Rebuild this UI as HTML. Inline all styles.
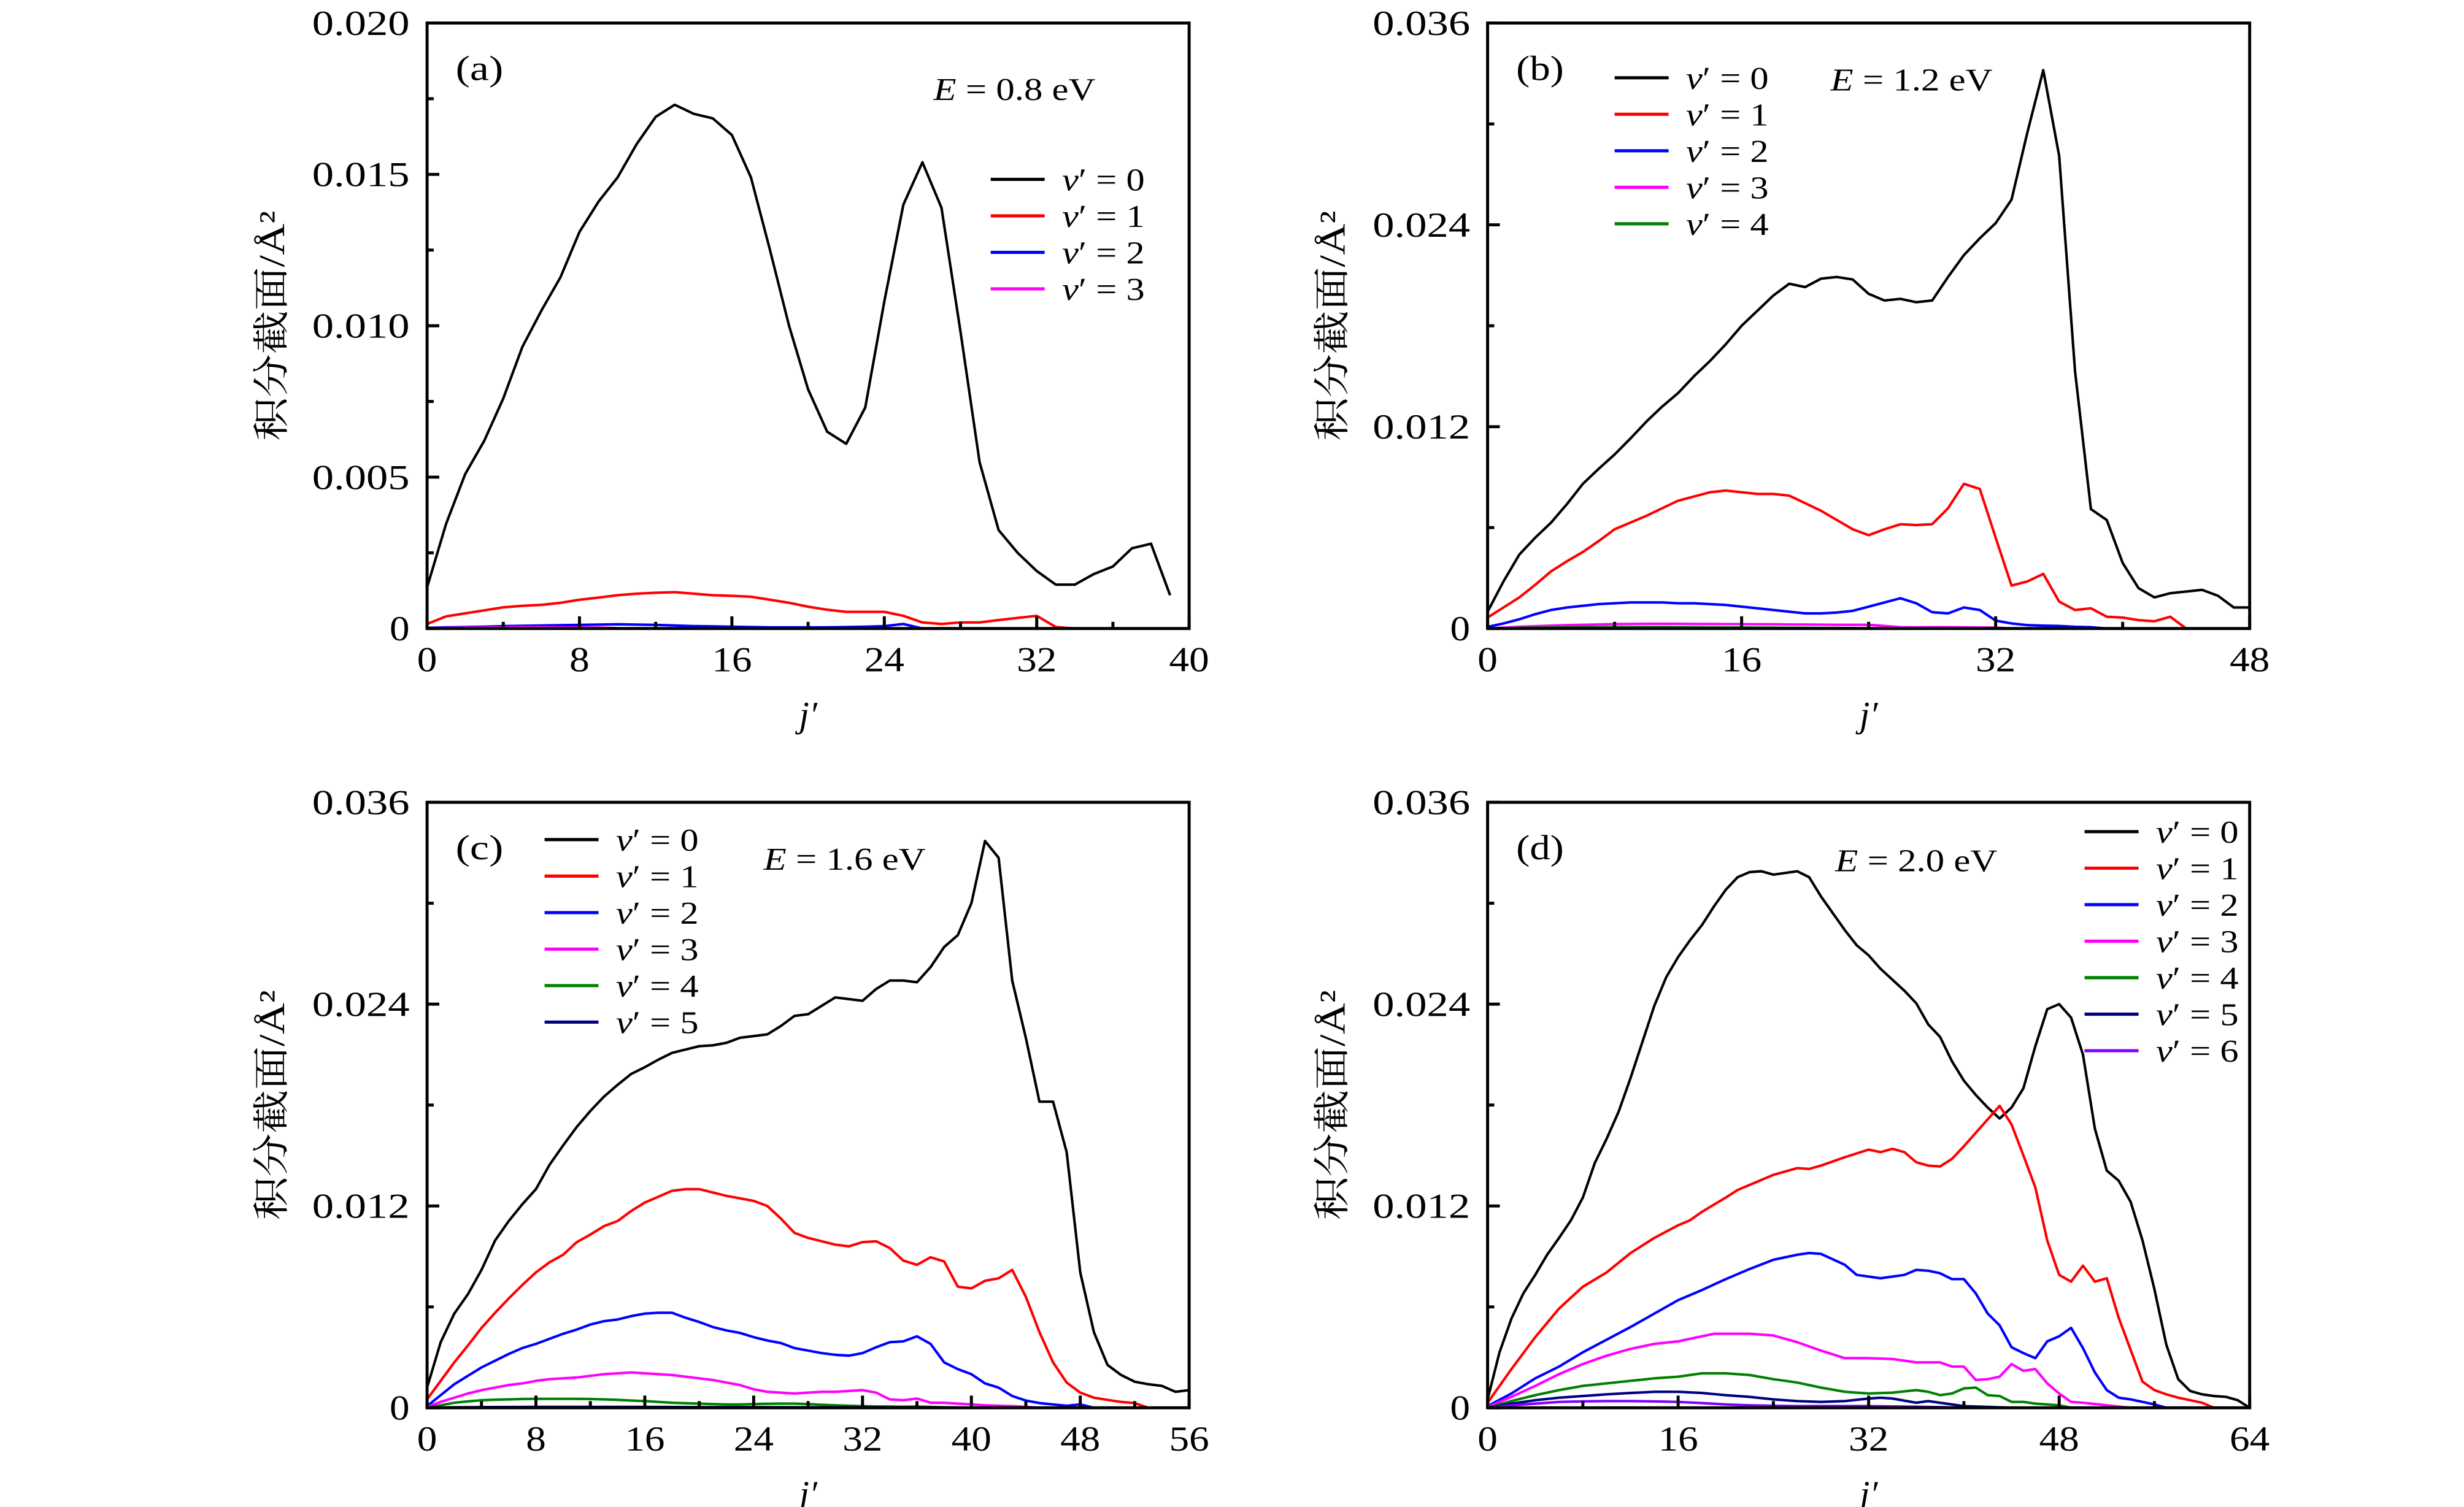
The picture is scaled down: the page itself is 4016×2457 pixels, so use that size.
<!DOCTYPE html>
<html><head><meta charset="utf-8">
<style>
html,body{margin:0;padding:0;background:#fff;}
svg{display:block;}
text{font-family:"Liberation Serif","Noto Serif CJK SC",serif;fill:#000;}
</style></head>
<body>
<svg id="fig" xmlns="http://www.w3.org/2000/svg" width="4016" height="2457" viewBox="0 0 1552 949.5"></svg>
<script>
// ---- Panel (a) data, E = 0.8 eV (units 1e-3 Å^2) ----
const aJ0 = [0,1,2,3,4,5,6,7,8,9,10,11,12,13,14,15,16,17,18,19,20,21,22,23,24,25,26,27,28,29,30,31,32,33,34,35,36,37,38,39];
const aV0 = [1.36,3.46,5.1,6.2,7.6,9.3,10.5,11.6,13.1,14.1,14.9,16.0,16.9,17.3,17.0,16.85,16.3,14.9,12.5,10.0,7.9,6.5,6.1,7.3,10.8,14.0,15.4,13.9,9.8,5.5,3.25,2.5,1.9,1.45,1.45,1.8,2.05,2.65,2.8,1.1];
const aJ1 = [0,1,2,3,4,5,6,7,8,9,10,11,12,13,14,15,16,17,18,19,20,21,22,23,24,25,26,27,28,29,30,31,32,33,34];
const aV1 = [0.15,0.4,0.5,0.6,0.7,0.75,0.78,0.85,0.95,1.02,1.1,1.15,1.18,1.2,1.15,1.1,1.08,1.05,0.95,0.85,0.72,0.62,0.55,0.55,0.55,0.42,0.2,0.15,0.2,0.2,0.28,0.35,0.42,0.05,0];
const aJ2 = [0,1,2,3,4,5,6,7,8,9,10,11,12,13,14,15,16,17,18,19,20,21,22,23,24,25,26];
const aV2 = [0.02,0.04,0.05,0.06,0.08,0.09,0.10,0.11,0.12,0.13,0.14,0.13,0.12,0.10,0.08,0.07,0.06,0.05,0.04,0.04,0.04,0.04,0.05,0.06,0.08,0.15,0];
const aJ3 = [0,1,2,3,4,5,6,7,8,9,10];
const aV3 = [0.01,0.02,0.03,0.03,0.04,0.05,0.05,0.04,0.03,0.03,0.01];

// ---- Panel (b) data, E = 1.2 eV ----
const bJ0 = [0,1,2,3,4,5,6,7,8,9,10,11,12,13,14,15,16,17,18,19,20,21,22,23,24,25,26,27,28,29,30,31,32,33,34,35,36,37,38,39,40,41,42,43,44,45,46,47,48];
const bV0 = [1.0,2.8,4.4,5.4,6.3,7.4,8.6,9.5,10.35,11.3,12.3,13.2,14.0,15.0,15.9,16.9,18.0,18.9,19.8,20.5,20.3,20.8,20.9,20.75,19.9,19.5,19.6,19.4,19.5,20.9,22.2,23.2,24.1,25.5,29.5,33.2,28.1,15.3,7.1,6.45,3.9,2.4,1.85,2.1,2.2,2.3,1.95,1.25,1.25];
const bJ1 = [0,1,2,3,4,5,6,7,8,9,10,11,12,13,14,15,16,17,18,19,20,21,22,23,24,25,26,27,28,29,30,31,32,33,34,35,36,37,38,39,40,41,42,43,44];
const bV1 = [0.65,1.25,1.85,2.6,3.4,4.0,4.55,5.2,5.9,6.3,6.7,7.15,7.6,7.85,8.1,8.2,8.1,8.0,8.0,7.9,7.45,7.0,6.45,5.9,5.55,5.9,6.2,6.15,6.2,7.15,8.6,8.3,5.4,2.55,2.8,3.25,1.6,1.1,1.2,0.7,0.65,0.5,0.43,0.7,0];
const bJ2 = [0,1,2,3,4,5,6,7,8,9,10,11,12,13,14,15,16,17,18,19,20,21,22,23,24,25,26,27,28,29,30,31,32,33,34,35,36,37,38,39];
const bV2 = [0.1,0.3,0.55,0.85,1.1,1.25,1.35,1.45,1.5,1.55,1.55,1.55,1.5,1.5,1.45,1.4,1.3,1.2,1.1,1.0,0.9,0.9,0.95,1.05,1.3,1.55,1.8,1.5,0.97,0.9,1.25,1.1,0.47,0.3,0.2,0.17,0.15,0.1,0.08,0];
const bJ3 = [0,1,2,3,4,5,6,7,8,9,10,11,12,13,14,15,16,17,18,19,20,21,22,23,24,25,26,27,28,29,30,31,32,33];
const bV3 = [0,0.05,0.1,0.14,0.17,0.2,0.22,0.24,0.26,0.27,0.28,0.28,0.28,0.27,0.27,0.26,0.26,0.25,0.25,0.24,0.24,0.23,0.22,0.22,0.22,0.15,0.08,0.07,0.08,0.08,0.07,0.06,0.05,0];
const bJ4 = [0,1,2,3,4,5,6,7,8,9,10,11,12,13,14,15,16,17,18,19,20,21,22,23,24,25];
const bV4 = [0,0.02,0.04,0.05,0.06,0.07,0.08,0.08,0.09,0.09,0.09,0.09,0.08,0.08,0.07,0.06,0.06,0.05,0.05,0.04,0.04,0.03,0.03,0.02,0.01,0];

// ---- Panel (c) data, E = 1.6 eV ----
const cJ0 = [0,1,2,3,4,5,6,7,8,9,10,11,12,13,14,15,16,17,18,19,20,21,22,23,24,25,26,27,28,29,30,31,32,33,34,35,36,37,38,39,40,41,42,43,44,45,46,47,48,49,50,51,52,53,54,55,56];
const cV0 = [1.2,3.9,5.6,6.75,8.2,9.95,11.1,12.1,13.0,14.45,15.6,16.7,17.65,18.5,19.2,19.85,20.25,20.7,21.1,21.3,21.5,21.55,21.7,22.0,22.1,22.2,22.7,23.3,23.4,23.9,24.4,24.3,24.2,24.9,25.4,25.4,25.3,26.2,27.4,28.1,30.0,33.7,32.7,25.4,22.0,18.2,18.2,15.2,8.05,4.5,2.55,1.95,1.55,1.4,1.3,0.95,1.05];
const cJ1 = [0,1,2,3,4,5,6,7,8,9,10,11,12,13,14,15,16,17,18,19,20,21,22,23,24,25,26,27,28,29,30,31,32,33,34,35,36,37,38,39,40,41,42,43,44,45,46,47,48,49,50,51,52,53];
const cV1 = [0.5,1.6,2.7,3.7,4.75,5.65,6.5,7.3,8.05,8.65,9.1,9.85,10.3,10.8,11.1,11.7,12.2,12.55,12.9,13.0,13.0,12.8,12.6,12.45,12.3,12.0,11.25,10.4,10.1,9.9,9.7,9.6,9.85,9.9,9.5,8.75,8.5,8.95,8.7,7.2,7.1,7.55,7.7,8.2,6.6,4.5,2.7,1.5,0.9,0.6,0.47,0.35,0.28,0];
const cJ2 = [0,1,2,3,4,5,6,7,8,9,10,11,12,13,14,15,16,17,18,19,20,21,22,23,24,25,26,27,28,29,30,31,32,33,34,35,36,37,38,39,40,41,42,43,44,45,46,47,48,49];
const cV2 = [0.1,0.75,1.4,1.9,2.4,2.8,3.2,3.55,3.8,4.1,4.4,4.65,4.95,5.15,5.25,5.45,5.6,5.65,5.65,5.35,5.1,4.8,4.6,4.45,4.2,4.0,3.85,3.55,3.4,3.25,3.15,3.1,3.25,3.6,3.9,3.95,4.25,3.8,2.7,2.3,2.0,1.45,1.2,0.7,0.43,0.28,0.2,0.12,0.2,0];
const cJ3 = [0,1,2,3,4,5,6,7,8,9,10,11,12,13,14,15,16,17,18,19,20,21,22,23,24,25,26,27,28,29,30,31,32,33,34,35,36,37,38,39,40,41,42,43,44,45];
const cV3 = [0.05,0.35,0.6,0.85,1.05,1.2,1.35,1.45,1.6,1.7,1.75,1.8,1.9,2.0,2.05,2.1,2.05,2.0,1.95,1.85,1.75,1.65,1.5,1.35,1.1,0.95,0.9,0.85,0.9,0.95,0.95,1.0,1.05,0.9,0.5,0.45,0.55,0.3,0.3,0.25,0.2,0.15,0.12,0.1,0.05,0];
const cJ4 = [0,1,2,3,4,5,6,7,8,9,10,11,12,13,14,15,16,17,18,19,20,21,22,23,24,25,26,27,28,29,30,31,32,33,34,35,36,37,38,39,40];
const cV4 = [0,0.15,0.3,0.38,0.45,0.48,0.5,0.52,0.53,0.53,0.53,0.53,0.52,0.5,0.47,0.43,0.4,0.35,0.3,0.27,0.25,0.22,0.2,0.2,0.22,0.24,0.25,0.25,0.22,0.18,0.15,0.12,0.1,0.08,0.07,0.06,0.07,0.05,0.03,0.02,0];
const cJ5 = [0,2,4,8,12,16,20,24,28,32,36,40];
const cV5 = [0,0.03,0.04,0.05,0.05,0.05,0.04,0.04,0.03,0.03,0.02,0];

// ---- Panel (d) data, E = 2.0 eV ----
const dJ0 = [0,1,2,3,4,5,6,7,8,9,10,11,12,13,14,15,16,17,18,19,20,21,22,23,24,25,26,27,28,29,30,31,32,33,34,35,36,37,38,39,40,41,42,43,44,45,46,47,48,49,50,51,52,53,54,55,56,57,58,59,60,61,62,63,64];
const dV0 = [0.5,3.3,5.3,6.8,7.9,9.1,10.1,11.15,12.5,14.55,16.0,17.6,19.6,21.75,23.9,25.6,26.8,27.8,28.7,29.8,30.8,31.55,31.85,31.9,31.7,31.8,31.9,31.55,30.4,29.4,28.4,27.5,26.9,26.1,25.45,24.8,24.05,22.8,22.05,20.6,19.45,18.6,17.85,17.2,17.85,19.0,21.5,23.7,24.0,23.2,21.0,16.6,14.1,13.5,12.25,9.95,7.05,3.75,1.7,1.0,0.8,0.7,0.65,0.45,0];
const dJ1 = [0,2,4,6,8,10,12,14,16,17,18,20,21,22,24,26,27,28,30,32,33,34,35,36,37,38,39,40,41,42,43,44,45,46,47,48,49,50,51,52,53,54,55,56,57,58,59,60,61];
const dV1 = [0.3,2.3,4.2,5.9,7.2,8.05,9.2,10.1,10.85,11.15,11.65,12.5,12.95,13.25,13.85,14.25,14.2,14.4,14.9,15.35,15.2,15.4,15.2,14.6,14.4,14.35,14.8,15.55,16.35,17.15,17.95,16.85,15.0,13.1,9.95,7.9,7.5,8.45,7.5,7.7,5.35,3.45,1.55,1.05,0.8,0.6,0.45,0.3,0];
const dJ2 = [0,2,4,6,8,10,12,14,16,18,20,22,24,26,27,28,30,31,32,33,34,35,36,37,38,39,40,41,42,43,44,45,46,47,48,49,50,51,52,53,54,55,56,57];
const dV2 = [0.1,0.85,1.75,2.45,3.3,4.05,4.8,5.6,6.4,7.0,7.65,8.25,8.8,9.1,9.2,9.15,8.5,7.9,7.8,7.7,7.8,7.9,8.2,8.15,8.0,7.65,7.65,6.8,5.6,4.9,3.6,3.25,2.95,3.95,4.25,4.75,3.55,2.1,1.05,0.6,0.5,0.35,0.2,0];
const dJ3 = [0,2,4,6,8,10,12,14,16,18,19,20,22,24,26,28,30,32,34,36,38,39,40,41,42,43,44,45,46,47,48,49,50,52,54];
const dV3 = [0.05,0.65,1.3,2.0,2.6,3.1,3.5,3.8,3.95,4.25,4.4,4.4,4.4,4.3,3.9,3.4,2.95,2.95,2.9,2.7,2.7,2.45,2.45,1.65,1.7,1.85,2.6,2.2,2.3,1.45,0.85,0.35,0.3,0.15,0];
const dJ4 = [0,2,4,6,8,10,12,14,16,18,20,22,24,26,28,30,32,34,36,37,38,39,40,41,42,43,44,45,46,47,48,49];
const dV4 = [0,0.4,0.75,1.05,1.3,1.45,1.6,1.75,1.85,2.05,2.05,1.95,1.7,1.5,1.2,0.95,0.85,0.9,1.05,0.95,0.75,0.85,1.15,1.2,0.75,0.7,0.35,0.35,0.25,0.2,0.15,0];
const dJ5 = [0,2,4,6,8,10,12,14,16,18,20,22,24,26,28,30,32,33,34,36,37,38,40,42,44];
const dV5 = [0,0.25,0.45,0.6,0.7,0.8,0.88,0.95,0.95,0.88,0.75,0.65,0.5,0.4,0.35,0.4,0.55,0.6,0.55,0.3,0.4,0.3,0.1,0.05,0];
const dJ6 = [0,2,4,6,8,10,12,14,16,18,20,22,24,26,28,30,32,34,36,38,40];
const dV6 = [0,0.15,0.25,0.35,0.38,0.4,0.4,0.38,0.35,0.28,0.2,0.15,0.12,0.1,0.1,0.1,0.1,0.08,0.06,0.04,0];

const aYTicks = ["0","0.005","0.010","0.015","0.020"];
const bYTicks = ["0","0.012","0.024","0.036"];
const aXTicks = [0,8,16,24,32,40];
const bXTicks = [0,16,32,48];
const cXTicks = [0,8,16,24,32,40,48,56];
const dXTicks = [0,16,32,48,64];

const COLORS = ["#000000","#ff0000","#0000ff","#ff00ff","#008000","#000080","#8000ff"];
const NS = "http://www.w3.org/2000/svg";
const fig = document.getElementById("fig");

function mk(tag, attrs, parent){
  const e = document.createElementNS(NS, tag);
  for (const k in attrs) e.setAttribute(k, attrs[k]);
  (parent || fig).appendChild(e);
  return e;
}
function numWidth(s){
  let w = 0;
  for (const ch of s) w += (ch === ".") ? 11 : 12.6;
  return w;
}

function panel(cfg){
  const g = mk("g", {});
  
  
  const L = cfg.L, R = cfg.R, T = cfg.T, B = cfg.B;
  const xs = v => L + (v - cfg.xmin) / (cfg.xmax - cfg.xmin) * (R - L);
  const ys = v => B - v / cfg.ymax * (B - T);

  cfg.series.forEach((s, i) => {
    let d = "";
    s.j.forEach((jv, k) => { d += (k ? "L" : "M") + xs(jv).toFixed(2) + "," + ys(s.v[k] / 1000).toFixed(2); });
    const p = mk("path", {d: d, fill: "none", stroke: COLORS[i], "stroke-width": 1.6, "stroke-linejoin": "round"}, g);
    
    
  });

  const fr = mk("rect", {x: L, y: T, width: R - L, height: B - T, fill: "none", stroke: "#000", "stroke-width": 1.9}, g);
  
  

  cfg.yLabels.forEach((lab, i) => {
    const val = cfg.ymax * i / (cfg.yLabels.length - 1);
    const y = ys(val);
    const t = mk("line", {x1: L, x2: L + 7.7, y1: y, y2: y, stroke: "#000", "stroke-width": 1.9}, g);
    
    
    if (i > 0) {
      const ym = ys(val - cfg.ymax / (cfg.yLabels.length - 1) / 2);
      const m = mk("line", {x1: L, x2: L + 4.2, y1: ym, y2: ym, stroke: "#000", "stroke-width": 1.9}, g);
      
      
    }
    const tx = mk("text", {x: L - 11, y: y + 7.5, "text-anchor": "end", "font-size": 22, textLength: numWidth(lab), lengthAdjust: "spacingAndGlyphs"}, g);
    tx.textContent = lab;
    
    
  });

  cfg.xLabels.forEach((lab, i) => {
    const x = xs(lab);
    const t = mk("line", {x1: x, x2: x, y1: B, y2: B - 7.7, stroke: "#000", "stroke-width": 1.9}, g);
    
    
    if (i > 0) {
      const xm = xs((lab + cfg.xLabels[i - 1]) / 2);
      const m = mk("line", {x1: xm, x2: xm, y1: B, y2: B - 4.2, stroke: "#000", "stroke-width": 1.9}, g);
      
      
    }
    const s = String(lab);
    const tx = mk("text", {x: x, y: B + 27, "text-anchor": "middle", "font-size": 22, textLength: numWidth(s), lengthAdjust: "spacingAndGlyphs"}, g);
    tx.textContent = s;
    
    
  });

  const xt = mk("text", {x: (L + R) / 2, y: B + 62, "text-anchor": "middle", "font-size": 23, "font-style": "italic"}, g);
  xt.textContent = "j′";
  
  
  const cy = (T + B) / 2;
  const yt = mk("text", {x: L - 98, y: cy, "text-anchor": "middle", "font-size": 23, textLength: 145, lengthAdjust: "spacingAndGlyphs", transform: "rotate(-90 " + (L - 98) + " " + cy + ") translate(0 8)"}, g);
  yt.textContent = "积分截面/Å²";
  
  

  const pl = mk("text", {x: L + 18, y: T + 36, "font-size": 22, textLength: 30, lengthAdjust: "spacingAndGlyphs"}, g);
  pl.textContent = "(" + cfg.id + ")";
  
  

  const en = mk("text", {x: cfg.ex, y: cfg.ey, "font-size": 20, textLength: 102, lengthAdjust: "spacingAndGlyphs"}, g);
  en.innerHTML = '<tspan font-style="italic">E</tspan> = ' + cfg.energy + ' eV';
  
  

  const lg = mk("g", {}, g);
  
  
  cfg.series.forEach((s, i) => {
    const y = cfg.ly + i * 23;
    const e = mk("g", {}, lg);
    
    
    mk("line", {x1: cfg.lx, x2: cfg.lx + 34, y1: y, y2: y, stroke: COLORS[i], "stroke-width": 2}, e);
    const t = mk("text", {x: cfg.lx + 45, y: y + 7, "font-size": 20, textLength: 52, lengthAdjust: "spacingAndGlyphs"}, e);
    t.innerHTML = '<tspan font-style="italic">v</tspan>′ = ' + i;
  });
}

panel({id: "a", L: 269, R: 749, T: 14.5, B: 396, xmin: 0, xmax: 40, ymax: 0.020,
  yLabels: aYTicks, xLabels: aXTicks, energy: "0.8", ex: 588, ey: 63, lx: 624, ly: 113,
  series: [{j: aJ0, v: aV0}, {j: aJ1, v: aV1}, {j: aJ2, v: aV2}, {j: aJ3, v: aV3}]});
panel({id: "b", L: 937, R: 1417, T: 14.5, B: 396, xmin: 0, xmax: 48, ymax: 0.036,
  yLabels: bYTicks, xLabels: bXTicks, energy: "1.2", ex: 1153, ey: 57, lx: 1017, ly: 49,
  series: [{j: bJ0, v: bV0}, {j: bJ1, v: bV1}, {j: bJ2, v: bV2}, {j: bJ3, v: bV3}, {j: bJ4, v: bV4}]});
panel({id: "c", L: 269, R: 749, T: 505.5, B: 887, xmin: 0, xmax: 56, ymax: 0.036,
  yLabels: bYTicks, xLabels: cXTicks, energy: "1.6", ex: 481, ey: 548, lx: 343, ly: 529,
  series: [{j: cJ0, v: cV0}, {j: cJ1, v: cV1}, {j: cJ2, v: cV2}, {j: cJ3, v: cV3}, {j: cJ4, v: cV4}, {j: cJ5, v: cV5}]});
panel({id: "d", L: 937, R: 1417, T: 505.5, B: 887, xmin: 0, xmax: 64, ymax: 0.036,
  yLabels: bYTicks, xLabels: dXTicks, energy: "2.0", ex: 1156, ey: 549, lx: 1313, ly: 524,
  series: [{j: dJ0, v: dV0}, {j: dJ1, v: dV1}, {j: dJ2, v: dV2}, {j: dJ3, v: dV3}, {j: dJ4, v: dV4}, {j: dJ5, v: dV5}, {j: dJ6, v: dV6}]});
</script>
</body></html>
